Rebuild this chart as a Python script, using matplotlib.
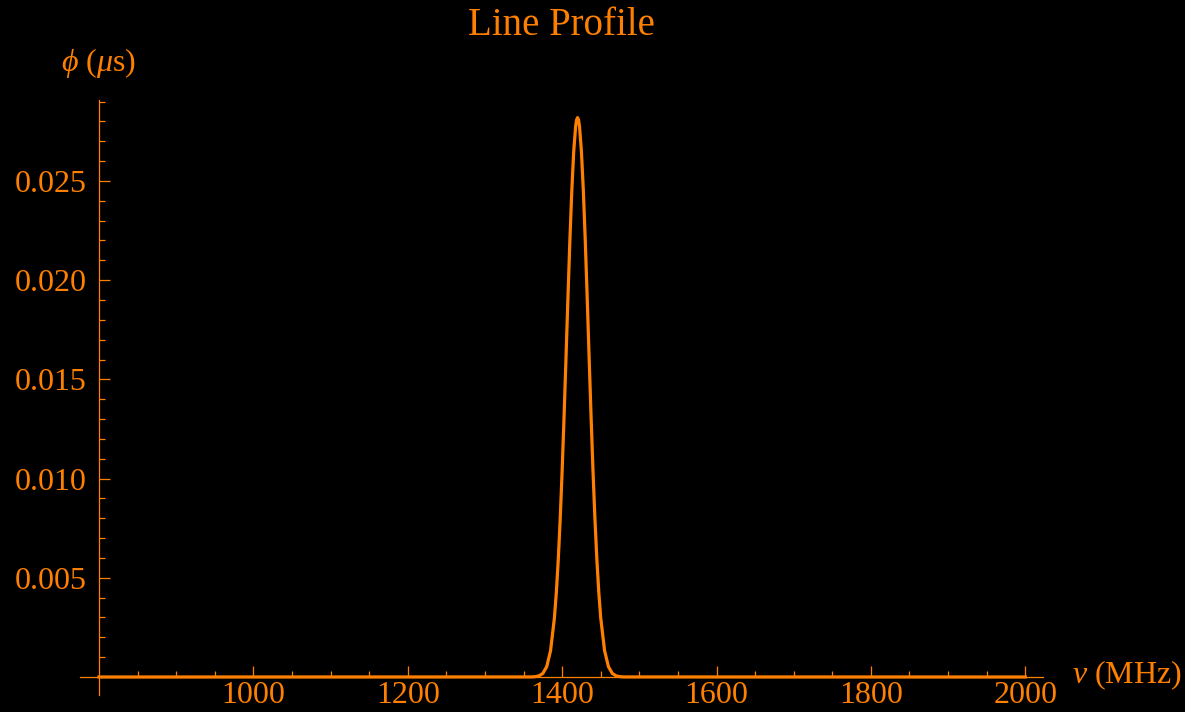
import numpy as np
import matplotlib
matplotlib.use('Agg')
import matplotlib.pyplot as plt
from matplotlib.ticker import MultipleLocator, FixedLocator

# line profile (frequency in MHz, phi in microseconds)
freq = [800, 1360, 1365, 1370, 1375, 1380, 1385, 1390, 1392.5, 1395, 1397.5,
        1400, 1402.5, 1405, 1407.5, 1410, 1412.5, 1415, 1417.5, 1418.75, 1420,
        1421.25, 1422.5, 1425, 1427.5, 1430, 1432.5, 1435, 1437.5, 1440,
        1442.5, 1445, 1447.5, 1450, 1455, 1460, 1465, 1470, 1475, 1480, 2000]
phi = [0.0, 0.0000035, 0.0000147, 0.0000547, 0.000179, 0.000518, 0.001323,
       0.002977, 0.004265, 0.005917, 0.00796, 0.01038, 0.01312, 0.01607,
       0.01908, 0.02196, 0.02449, 0.02648, 0.02775, 0.02808, 0.02819,
       0.02808, 0.02775, 0.02648, 0.02449, 0.02196, 0.01908, 0.01607,
       0.01312, 0.01038, 0.00796, 0.005917, 0.004265, 0.002977, 0.001323,
       0.000518, 0.000179, 0.0000547, 0.0000147, 0.0000035, 0.0]

x_major = [1000, 1200, 1400, 1600, 1800, 2000]
y_major = [0.005, 0.010, 0.015, 0.020, 0.025]
y_labels = ['0.005', '0.010', '0.015', '0.020', '0.025']

orange = '#FF8000'
plt.rcParams['font.family'] = ['Liberation Serif', 'DejaVu Serif']
plt.rcParams['mathtext.fontset'] = 'custom'
plt.rcParams['mathtext.rm'] = 'Liberation Serif'
plt.rcParams['mathtext.it'] = 'Liberation Serif:italic'

fig = plt.figure(figsize=(11.85, 7.12), dpi=100, facecolor='black')
ax = fig.add_axes([0.0675, 0.0239, 0.8127, 0.8357], facecolor='black')

ax.plot(freq, phi, color=orange, linewidth=2.3, solid_joinstyle='round', zorder=3)

ax.set_xlim(775.4, 2023)
ax.set_ylim(-0.000907, 0.02908)

ax.spines['left'].set_position(('data', 800))
ax.spines['bottom'].set_position(('data', 0))
ax.spines['right'].set_visible(False)
ax.spines['top'].set_visible(False)
for s in ['left', 'bottom']:
    ax.spines[s].set_color(orange)
    ax.spines[s].set_linewidth(0.9)

ax.xaxis.set_major_locator(FixedLocator(x_major))
ax.xaxis.set_minor_locator(FixedLocator([v for v in range(850, 2001, 50) if v not in x_major]))
ax.set_xticklabels([str(v) for v in x_major])
ax.yaxis.set_major_locator(FixedLocator(y_major))
ax.yaxis.set_minor_locator(FixedLocator([i / 1000 for i in range(1, 30) if i % 5 != 0]))
ax.set_yticklabels(y_labels)

ax.tick_params(which='both', direction='in', colors=orange, width=0.9, labelsize=23)
ax.tick_params(which='major', length=8)
ax.tick_params(which='minor', length=4.5)
ax.tick_params(axis='x', pad=3)
ax.tick_params(axis='y', pad=9)

ax.set_title('Line Profile', color=orange, fontsize=28, pad=47)

fig.text(98 / 1185, 1 - 63 / 712, r'$\phi$ ($\mu$s)', color=orange, fontsize=23,
         ha='center', va='center')
fig.text(1072 / 1185, 1 - 675 / 712, r'$\nu$ (MHz)', color=orange, fontsize=23,
         ha='left', va='center')

fig.savefig('out.png', dpi=100, facecolor='black')
